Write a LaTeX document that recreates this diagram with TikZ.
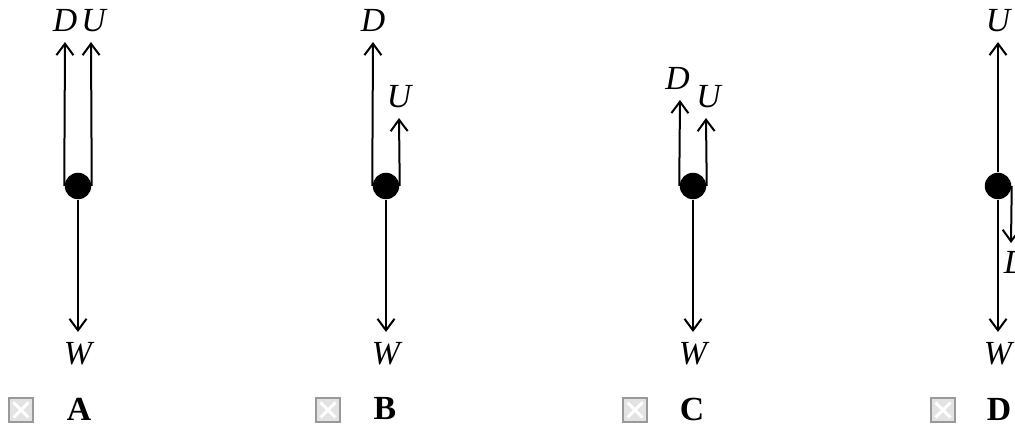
\documentclass[tikz,border=0pt]{standalone}
\usepackage{fontspec}
\setmainfont{Liberation Serif}
\usetikzlibrary{arrows.meta,positioning}

\begin{document}
\begin{tikzpicture}[
    x=0.4pt, y=-0.4pt,
    ball/.style={circle, fill=black, inner sep=0pt, minimum size=10.6pt},
    force/.style={-{Straight Barb[length=4.6pt,width=6.8pt]}, line width=0.8pt},
    lab/.style={font=\fontsize{13.5}{15}\selectfont\itshape, inner sep=1pt},
    tickbox/.style={rectangle, draw=gray!80, line width=0.6pt, fill=gray!22, minimum size=9.6pt, inner sep=0pt,
        path picture={\draw[white, line width=1.2pt]
            ([shift={(1.8pt,1.8pt)}]path picture bounding box.south west) -- ([shift={(-1.8pt,-1.8pt)}]path picture bounding box.north east)
            ([shift={(1.8pt,-1.8pt)}]path picture bounding box.north west) -- ([shift={(-1.8pt,1.8pt)}]path picture bounding box.south east);}},
    opt/.style={font=\fontsize{13.5}{15}\selectfont\bfseries, inner sep=0pt}
]
\clip (0,0) rectangle (1015,425);

% option A
\node[ball] (ballA) at (78,186) {};
\coordinate (dA) at (65,42);
\coordinate (uA) at (91,42);
\coordinate (wA) at (78,332);
\node[lab, above=3pt of dA] (labDA) {D};
\node[lab, above=3pt of uA, xshift=1pt] (labUA) {U};
\node[lab, below=3pt of wA] (labWA) {W};
\draw[force] (ballA.west) -- (dA);
\draw[force] (ballA.east) -- (uA);
\draw[force] (ballA.south) -- (wA);

% option B
\node[ball] (ballB) at (386,186) {};
\coordinate (dB) at (373,42);
\coordinate (uB) at (399,118);
\coordinate (wB) at (386,332);
\node[lab, above=3pt of dB] (labDB) {D};
\node[lab, above=3pt of uB] (labUB) {U};
\node[lab, below=3pt of wB] (labWB) {W};
\draw[force] (ballB.west) -- (dB);
\draw[force] (ballB.east) -- (uB);
\draw[force] (ballB.south) -- (wB);

% option C
\node[ball] (ballC) at (693,186) {};
\coordinate (dC) at (680,100);
\coordinate (uC) at (706,118);
\coordinate (wC) at (693,332);
\node[lab, above=3pt of dC, xshift=-1pt] (labDC) {D};
\node[lab, above=3pt of uC, xshift=1pt] (labUC) {U};
\node[lab, below=3pt of wC] (labWC) {W};
\draw[force] (ballC.west) -- (dC);
\draw[force] (ballC.east) -- (uC);
\draw[force] (ballC.south) -- (wC);

% option D
\node[ball] (ballD) at (998,186) {};
\coordinate (uD) at (998,42);
\coordinate (dD) at (1011,243);
\coordinate (wD) at (998,332);
\node[lab, above=3pt of uD] (labUD) {U};
\node[lab, below=2pt of dD, xshift=2pt] (labDD) {D};
\node[lab, below=3pt of wD] (labWD) {W};
\draw[force] (ballD.north) -- (uD);
\draw[force] (ballD.east) -- (dD);
\draw[force] (ballD.south) -- (wD);

% answer boxes
\node[tickbox] (boxA) at (21,410) {};
\node[opt] (optA) at (79,409) {A};
\node[tickbox] (boxB) at (328,410) {};
\node[opt] (optB) at (385,409) {B};
\node[tickbox] (boxC) at (635,410) {};
\node[opt] (optC) at (692,409) {C};
\node[tickbox] (boxD) at (943,410) {};
\node[opt] (optD) at (999,409) {D};

\end{tikzpicture}
\end{document}
